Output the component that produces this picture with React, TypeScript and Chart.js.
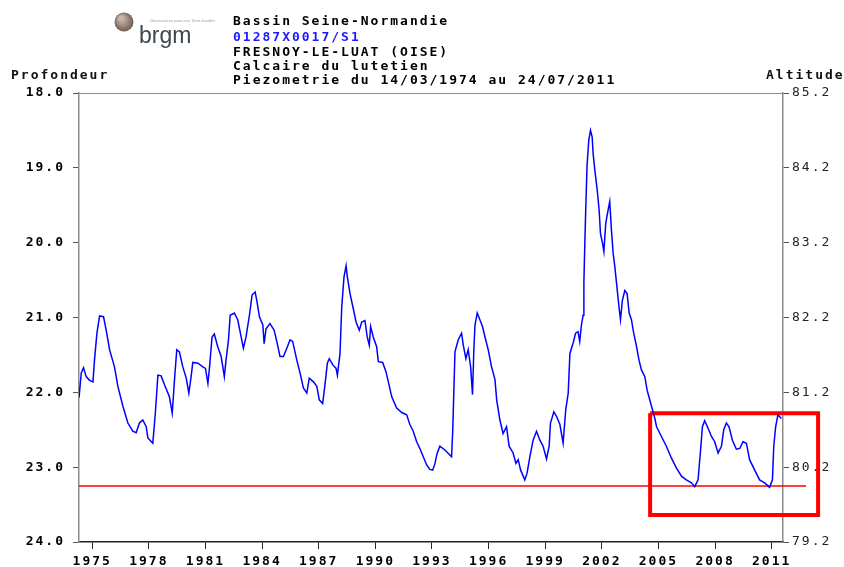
import React, { useEffect, useRef } from "react";
import { Chart, registerables } from "chart.js";

Chart.register(...registerables);

// Piezometric series: decimal year and depth (m)
const YEARS = [
  1974.3, 1974.42, 1974.54, 1974.68, 1974.86, 1975.04, 1975.12, 1975.25, 1975.39, 1975.6,
  1975.74, 1975.92, 1976.18, 1976.36, 1976.63, 1976.89, 1977.15, 1977.33, 1977.5, 1977.68,
  1977.86, 1977.95, 1978.21, 1978.35, 1978.48, 1978.65, 1978.83, 1979.09, 1979.24, 1979.36,
  1979.48, 1979.62, 1979.8, 1979.98, 1980.12, 1980.24, 1980.33, 1980.6, 1980.86, 1981.0,
  1981.13, 1981.21, 1981.35, 1981.47, 1981.65, 1981.83, 1981.92, 1982.0, 1982.09, 1982.22,
  1982.31, 1982.53, 1982.71, 1982.89, 1983.01, 1983.15, 1983.33, 1983.47, 1983.63, 1983.72,
  1983.86, 1984.04, 1984.11, 1984.21, 1984.42, 1984.64, 1984.78, 1984.95, 1985.13, 1985.31,
  1985.48, 1985.62, 1985.84, 1986.01, 1986.19, 1986.37, 1986.5, 1986.72, 1986.9, 1987.03,
  1987.21, 1987.34, 1987.46, 1987.56, 1987.74, 1987.92, 1987.99, 1988.13, 1988.22, 1988.34,
  1988.45, 1988.52, 1988.66, 1988.83, 1988.98, 1989.15, 1989.28, 1989.45, 1989.57, 1989.68,
  1989.75, 1989.89, 1990.07, 1990.16, 1990.39, 1990.56, 1990.69, 1990.87, 1991.13, 1991.4,
  1991.66, 1991.83, 1992.01, 1992.19, 1992.36, 1992.54, 1992.72, 1992.89, 1993.04, 1993.16,
  1993.28, 1993.42, 1993.69, 1994.04, 1994.1, 1994.22, 1994.39, 1994.57, 1994.66, 1994.8,
  1994.92, 1995.05, 1995.15, 1995.22, 1995.28, 1995.4, 1995.54, 1995.68, 1995.81, 1995.98,
  1996.16, 1996.34, 1996.43, 1996.6, 1996.77, 1996.95, 1997.09, 1997.3, 1997.45, 1997.57,
  1997.7, 1997.92, 1998.04, 1998.19, 1998.36, 1998.54, 1998.72, 1998.89, 1999.07, 1999.21,
  1999.28, 1999.46, 1999.6, 1999.78, 1999.95, 2000.09, 2000.22, 2000.31, 2000.48, 2000.61,
  2000.74, 2000.83, 2000.92, 2001.01, 2001.05, 2001.1, 2001.15, 2001.22, 2001.31, 2001.4,
  2001.49, 2001.54, 2001.63, 2001.75, 2001.86, 2001.93, 2002.04, 2002.11, 2002.21, 2002.33,
  2002.42, 2002.51, 2002.6, 2002.69, 2002.78, 2002.91, 2002.99, 2003.09, 2003.22, 2003.34,
  2003.45, 2003.57, 2003.69, 2003.84, 2003.97, 2004.1, 2004.28, 2004.4, 2004.54, 2004.68,
  2004.81, 2004.9, 2005.16, 2005.42, 2005.69, 2005.95, 2006.22, 2006.48, 2006.75, 2006.92,
  2007.1, 2007.22, 2007.33, 2007.45, 2007.63, 2007.81, 2007.98, 2008.16, 2008.34, 2008.46,
  2008.6, 2008.74, 2008.92, 2009.13, 2009.31, 2009.48, 2009.66, 2009.83, 2010.1, 2010.36,
  2010.63, 2010.89, 2011.04, 2011.11, 2011.21, 2011.33, 2011.51,
];
const DEPTHS = [
  22.07, 21.74, 21.67, 21.79, 21.84, 21.86, 21.57, 21.21, 20.98, 20.99,
  21.17, 21.43, 21.66, 21.92, 22.19, 22.41, 22.52, 22.54, 22.41, 22.37,
  22.46, 22.61, 22.68, 22.26, 21.77, 21.78, 21.9, 22.06, 22.28, 21.83,
  21.43, 21.46, 21.66, 21.81, 22.01, 21.79, 21.6, 21.61, 21.66, 21.68,
  21.88, 21.68, 21.26, 21.22, 21.39, 21.52, 21.66, 21.79, 21.57, 21.3,
  20.97, 20.94, 21.03, 21.26, 21.41, 21.26, 20.97, 20.7, 20.66, 20.77,
  20.99, 21.1, 21.35, 21.15, 21.08, 21.17, 21.32, 21.52, 21.52, 21.41,
  21.3, 21.32, 21.57, 21.74, 21.94, 22.01, 21.81, 21.86, 21.92, 22.1,
  22.15, 21.88, 21.61, 21.55, 21.63, 21.68, 21.77, 21.48, 20.86, 20.46,
  20.31, 20.46, 20.68, 20.88, 21.06, 21.17, 21.06, 21.04, 21.26, 21.37,
  21.12, 21.26, 21.39, 21.59, 21.6, 21.72, 21.86, 22.06, 22.21, 22.27,
  22.3, 22.43, 22.52, 22.66, 22.75, 22.86, 22.97, 23.03, 23.04, 22.95,
  22.81, 22.72, 22.77, 22.86, 22.52, 21.46, 21.3, 21.21, 21.37, 21.55,
  21.43, 21.66, 22.03, 21.43, 21.1, 20.94, 21.03, 21.12, 21.26, 21.43,
  21.66, 21.83, 22.1, 22.37, 22.55, 22.46, 22.72, 22.81, 22.95, 22.9,
  23.04, 23.17, 23.08, 22.86, 22.64, 22.52, 22.64, 22.72, 22.89, 22.72,
  22.41, 22.26, 22.32, 22.43, 22.68, 22.23, 22.01, 21.48, 21.34, 21.21,
  21.19, 21.32, 21.1, 20.97, 20.54, 20.01, 19.54, 18.96, 18.63, 18.5,
  18.59, 18.81, 19.03, 19.28, 19.57, 19.88, 20.01, 20.12, 19.74, 19.57,
  19.45, 19.83, 20.14, 20.32, 20.54, 20.86, 21.03, 20.77, 20.64, 20.68,
  20.94, 21.03, 21.21, 21.39, 21.57, 21.7, 21.79, 21.97, 22.1, 22.23,
  22.35, 22.46, 22.59, 22.72, 22.88, 23.01, 23.12, 23.17, 23.21, 23.26,
  23.17, 22.81, 22.46, 22.38, 22.48, 22.59, 22.66, 22.81, 22.72, 22.5,
  22.41, 22.46, 22.64, 22.76, 22.75, 22.66, 22.68, 22.9, 23.04, 23.17,
  23.21, 23.27, 23.17, 22.72, 22.46, 22.3, 22.35,
];

// Axis ranges and tick labels
const X_MIN = 1974.3;
const X_MAX = 2011.6;
const X_TICKS = [1975, 1978, 1981, 1984, 1987, 1990, 1993, 1996, 1999, 2002, 2005, 2008, 2011];
const DEPTH_TICKS = [18, 19, 20, 21, 22, 23, 24];
const ALT_TICKS = [85.2, 84.2, 83.2, 82.2, 81.2, 80.2, 79.2];

// Red annotations (reference level and highlight box), in data units
const REF_LEVEL = 23.25;
const REF_X = [1974.3, 2012.82];
const BOX_X = [2004.56, 2013.46];
const BOX_DEPTH = [22.28, 23.64];

// Header texts
const TITLE_LINES = [
  "Bassin Seine-Normandie",
  "01287X0017/S1",
  "FRESNOY-LE-LUAT (OISE)",
  "Calcaire du lutetien",
  "Piezometrie du 14/03/1974 au 24/07/2011",
];
const LEFT_AXIS_TITLE = "Profondeur";
const RIGHT_AXIS_TITLE = "Altitude";

const MONO = "'DejaVu Sans Mono', 'Liberation Mono', monospace";

const letterSpacingPlugin = {
  id: "spacing",
  beforeDraw(chart: any) {
    (chart.ctx as any).letterSpacing = "2px";
  },
};

const decorPlugin = {
  id: "decor",
  afterDraw(chart: any) {
    const ctx = chart.ctx as CanvasRenderingContext2D;
    const a = chart.chartArea;
    ctx.save();
    // top frame line
    ctx.strokeStyle = "#8c8c8c";
    ctx.lineWidth = 1;
    ctx.beginPath();
    ctx.moveTo(a.left, a.top + 0.5);
    ctx.lineTo(a.right, a.top + 0.5);
    ctx.stroke();

    // header lines
    (ctx as any).letterSpacing = "2px";
    ctx.textBaseline = "middle";
    ctx.textAlign = "left";
    const ys = [22, 38, 53, 67, 81];
    TITLE_LINES.forEach((t, i) => {
      ctx.font = `bold 13px ${MONO}`;
      ctx.fillStyle = i === 1 ? "#1a1aff" : "#000";
      ctx.fillText(t, 233, ys[i]);
    });
    ctx.font = `bold 13px ${MONO}`;
    ctx.fillStyle = "#111";
    ctx.fillText(LEFT_AXIS_TITLE, 11, 76);
    ctx.fillText(RIGHT_AXIS_TITLE, 766, 76);

    // logo
    (ctx as any).letterSpacing = "0px";
    const g = ctx.createRadialGradient(121, 18, 2, 124, 22, 10);
    g.addColorStop(0, "#c9b7ab");
    g.addColorStop(1, "#6e5a4e");
    ctx.fillStyle = g;
    ctx.beginPath();
    ctx.arc(124, 22, 9.5, 0, Math.PI * 2);
    ctx.fill();
    ctx.fillStyle = "#3c484d";
    ctx.font = "23px 'Liberation Sans', Arial, sans-serif";
    ctx.textBaseline = "alphabetic";
    ctx.fillText("brgm", 139, 43);
    ctx.fillStyle = "#9a9a9a";
    ctx.font = "4px 'Liberation Sans', sans-serif";
    ctx.textBaseline = "middle";
    ctx.fillText("Géosciences pour une Terre durable", 150, 21, 80);
    ctx.restore();
  },
};

export default function App() {
  const ref = useRef<HTMLCanvasElement | null>(null);

  useEffect(() => {
    if (!ref.current) return;
    const series = YEARS.map((x, i) => ({ x, y: DEPTHS[i] }));
    const refLine = REF_X.map((x) => ({ x, y: REF_LEVEL }));
    const box = [
      { x: BOX_X[0], y: BOX_DEPTH[0] },
      { x: BOX_X[1], y: BOX_DEPTH[0] },
      { x: BOX_X[1], y: BOX_DEPTH[1] },
      { x: BOX_X[0], y: BOX_DEPTH[1] },
      { x: BOX_X[0], y: BOX_DEPTH[0] },
    ];
    const chart = new Chart(ref.current, {
      type: "line",
      data: {
        datasets: [
          {
            data: series,
            borderColor: "#0000ff",
            borderWidth: 1.5,
            pointRadius: 0,
            tension: 0,
            yAxisID: "y",
          },
          {
            data: refLine,
            borderColor: "#ff0000",
            borderWidth: 1.5,
            pointRadius: 0,
            yAxisID: "y",
            clip: false as any,
          },
          {
            data: box,
            borderColor: "#ff0000",
            borderWidth: 4,
            pointRadius: 0,
            yAxisID: "y",
            clip: false as any,
          },
        ],
      },
      options: {
        animation: false,
        responsive: true,
        maintainAspectRatio: false,
        layout: { padding: { top: 93, left: 0, right: 0, bottom: 0 } },
        plugins: { legend: { display: false }, tooltip: { enabled: false } },
        scales: {
          x: {
            type: "linear",
            min: X_MIN,
            max: X_MAX,
            afterBuildTicks: (s: any) => {
              s.ticks = X_TICKS.map((v) => ({ value: v }));
            },
            afterFit: (s: any) => {
              s.height = 25;
            },
            ticks: {
              autoSkip: false,
              maxRotation: 0,
              padding: 5,
              color: "#000",
              font: { family: MONO, size: 13, weight: "bold" },
              callback: (v: any) => String(v),
            },
            grid: { drawOnChartArea: false, tickLength: 7, color: "#222" },
            border: { color: "#222", width: 1.5 },
          },
          y: {
            position: "left",
            reverse: true,
            min: 18,
            max: 24,
            afterBuildTicks: (s: any) => {
              s.ticks = DEPTH_TICKS.map((v) => ({ value: v }));
            },
            afterFit: (s: any) => {
              s.width = 79;
            },
            ticks: {
              padding: 8,
              color: "#000",
              font: { family: MONO, size: 13, weight: "bold" },
              callback: (v: any) => Number(v).toFixed(1),
            },
            grid: { drawOnChartArea: false, tickLength: 6, color: "#555" },
            border: { color: "#8c8c8c", width: 1.5 },
          },
          y2: {
            position: "right",
            min: 79.2,
            max: 85.2,
            afterBuildTicks: (s: any) => {
              s.ticks = ALT_TICKS.map((v) => ({ value: v }));
            },
            afterFit: (s: any) => {
              s.width = 61;
            },
            ticks: {
              padding: 3,
              color: "#222",
              font: { family: MONO, size: 13, weight: "normal" },
              callback: (v: any) => Number(v).toFixed(1),
            },
            grid: { drawOnChartArea: false, tickLength: 6, color: "#555" },
            border: { color: "#8c8c8c", width: 1.5 },
          },
        },
      },
      plugins: [letterSpacingPlugin, decorPlugin],
    } as any);
    return () => chart.destroy();
  }, []);

  return (
    <div style={{ position: "absolute", left: 0, top: 0, width: 844, height: 567, background: "#fff" }}>
      <canvas ref={ref} />
    </div>
  );
}
